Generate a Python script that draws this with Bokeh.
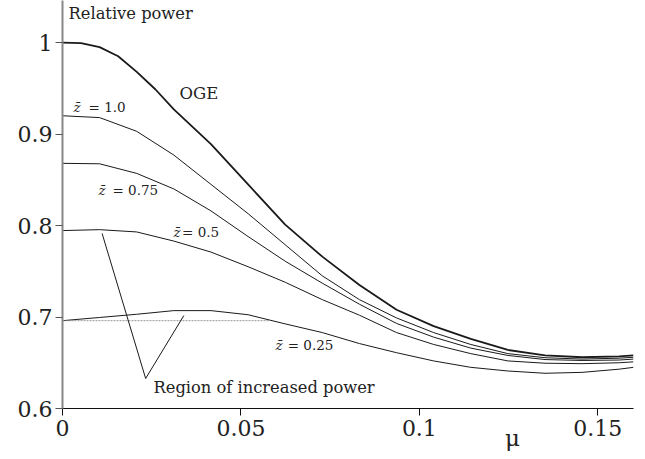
from bokeh.plotting import figure
from bokeh.models import FixedTicker, CustomJSTickFormatter, Label
from bokeh.embed import file_html
from bokeh.resources import INLINE

# ---- data ----
mu = [0.0, 0.0104, 0.0208, 0.0312, 0.0416, 0.052, 0.0624, 0.0728, 0.0832,
      0.0936, 0.104, 0.1144, 0.1248, 0.1352, 0.1456, 0.156, 0.16]
mu_oge = [0.0, 0.0052, 0.0104, 0.0156, 0.0208, 0.026, 0.0312, 0.0416, 0.052,
          0.0624, 0.0728, 0.0832, 0.0936, 0.104, 0.1144, 0.1248, 0.1352,
          0.1456, 0.156, 0.16]
oge = [1.000, 0.9995, 0.995, 0.985, 0.968, 0.949, 0.927, 0.889, 0.845,
       0.801, 0.766, 0.735, 0.708, 0.690, 0.676, 0.664, 0.658, 0.656,
       0.657, 0.658]
z100 = [0.920, 0.918, 0.903, 0.877, 0.845, 0.813, 0.779, 0.745, 0.719,
        0.699, 0.683, 0.670, 0.660, 0.6555, 0.654, 0.655, 0.656]
z075 = [0.868, 0.8675, 0.857, 0.840, 0.816, 0.788, 0.761, 0.737, 0.714,
        0.693, 0.678, 0.666, 0.658, 0.6535, 0.6525, 0.653, 0.654]
z050 = [0.7945, 0.7955, 0.793, 0.783, 0.771, 0.755, 0.738, 0.719, 0.702,
        0.683, 0.670, 0.660, 0.652, 0.6495, 0.649, 0.650, 0.651]
z025 = [0.696, 0.6995, 0.703, 0.707, 0.707, 0.7025, 0.6925, 0.683, 0.671,
        0.661, 0.652, 0.645, 0.641, 0.6385, 0.6395, 0.643, 0.645]

base_x = [0.0, 0.058]
base_y = [0.696, 0.696]

pointer_x = [0.0111, 0.0233, 0.034]
pointer_y = [0.7913, 0.6328, 0.7016]

x_ticks = [0, 0.05, 0.1, 0.15]
y_ticks = [0.6, 0.7, 0.8, 0.9, 1.0]

SERIF = "DejaVu Serif"

p = figure(width=645, height=459, x_range=(0, 0.16), y_range=(0.6, 1.046),
           min_border_left=62, min_border_right=12, min_border_top=0,
           min_border_bottom=51, output_backend="svg", toolbar_location=None)
p.outline_line_color = None
p.grid.visible = False
p.background_fill_color = "white"

# axes
fmt = CustomJSTickFormatter(code="return tick.toString();")
p.xaxis.ticker = FixedTicker(ticks=x_ticks)
p.yaxis.ticker = FixedTicker(ticks=y_ticks)
p.xaxis.formatter = fmt
p.yaxis.formatter = fmt
for ax in (p.xaxis[0], p.yaxis[0]):
    ax.major_label_text_font = SERIF
    ax.major_label_text_font_size = "22px"
    ax.major_label_text_color = "#222222"
    ax.minor_tick_line_color = None
    ax.major_tick_in = 0
    ax.major_tick_out = 7
p.xaxis.axis_line_color = "#111111"
p.xaxis.major_tick_line_color = "#111111"
p.xaxis.major_label_standoff = 4
p.yaxis.axis_line_color = "#888888"
p.yaxis.axis_line_width = 2
p.yaxis.major_tick_line_color = "#555555"
p.yaxis.major_label_standoff = 3

# x-axis label "μ", placed right of centre as in the reference
p.xaxis.axis_label = "\u00a0" * 45 + "\u03bc"
p.xaxis.axis_label_text_font = SERIF
p.xaxis.axis_label_text_font_size = "23px"
p.xaxis.axis_label_text_font_style = "normal"
p.xaxis.axis_label_text_color = "#222222"
p.xaxis.axis_label_standoff = -14

# curves
p.line(mu_oge, oge, line_color="#1a1a1a", line_width=1.8)
for ys in (z100, z075, z050, z025):
    p.line(mu, ys, line_color="#1a1a1a", line_width=1.0)

p.line(base_x, base_y, line_color="#888888", line_width=0.9, line_dash="2 1")
p.line(pointer_x, pointer_y, line_color="#1a1a1a", line_width=1.0)

# texts
def add_label(x, y, text, size="14px", style="normal", align="left"):
    p.add_layout(Label(x=x, y=y, text=text, text_font=SERIF,
                       text_font_size=size, text_font_style=style,
                       text_color="#222222", text_align=align,
                       text_baseline="middle"))

add_label(0.0017, 1.0317, "Relative power", "16.3px")
add_label(0.0328, 0.9443, "OGE", "16.5px")

z_labels = [(0.0031, 0.0073, 0.930, "= 1.0"),
            (0.0101, 0.0140, 0.8393, "= 0.75"),
            (0.0311, 0.0335, 0.7934, "= 0.5"),
            (0.0597, 0.0631, 0.6689, "= 0.25")]
for zx, ex, zy, txt in z_labels:
    add_label(zx, zy, "z\u0304", "13.5px", "italic")
    add_label(ex, zy, txt, "13.5px")

add_label(0.0255, 0.623, "Region of increased power", "16.3px")

open("out.html", "w").write(file_html(p, INLINE))
